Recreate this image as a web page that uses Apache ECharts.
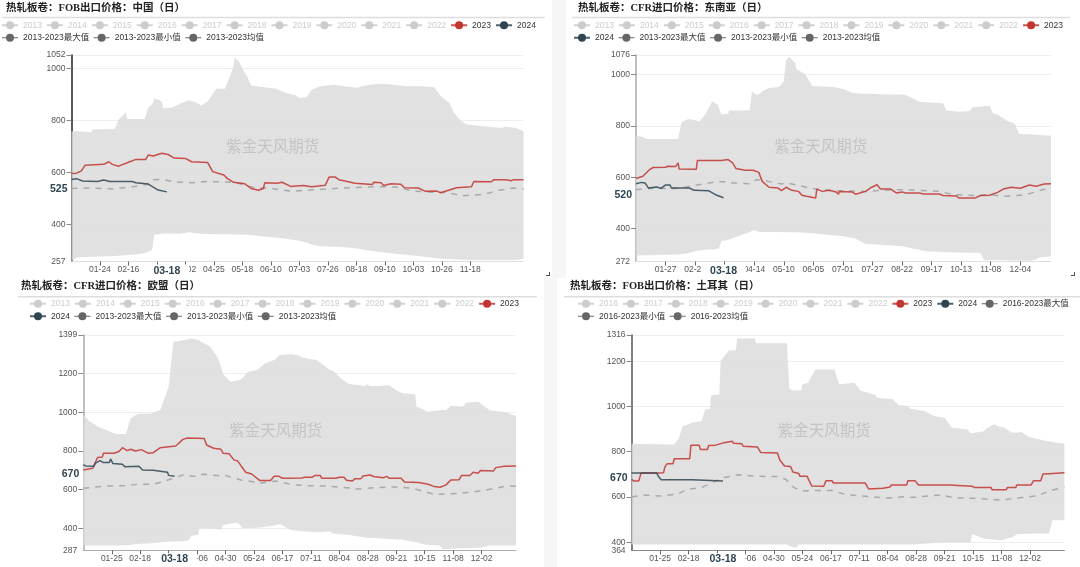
<!DOCTYPE html>
<html>
<head>
<meta charset="utf-8">
<title>热轧板卷</title>
<script src="https://cdn.jsdelivr.net/npm/echarts@6/dist/echarts.min.js"></script>
<style>
  html, body { margin: 0; padding: 0; background: #fff; }
  .gutter { position: absolute; background: #f6f6f6; }
  .corner { position: absolute; width: 3px; height: 3px; border-right: 1px solid #555; border-bottom: 1px solid #555; }
  .chart { position: absolute; }
</style>
</head>
<body>
<div class="gutter" style="left:552px;top:0;width:14px;height:278px"></div>
<div class="gutter" style="left:544px;top:278px;width:13px;height:289px"></div>
<div class="corner" style="left:546px;top:272px"></div>
<div class="corner" style="left:1071px;top:272px"></div>
<div class="chart" id="c1" style="left:0;top:0;width:545px;height:278px"></div>
<div class="chart" id="c2" style="left:565px;top:0;width:515px;height:278px"></div>
<div class="chart" id="c3" style="left:0;top:278px;width:544px;height:289px"></div>
<div class="chart" id="c4" style="left:560px;top:278px;width:520px;height:289px"></div>
<script>
// day list of the seasonal axis, taken from a leap year so it runs 01-01 .. 12-31
const DAYS = []
for (let d = new Date(Date.UTC(2024, 0, 1)); d.getUTCFullYear() === 2024; d.setUTCDate(d.getUTCDate() + 1)) {
  DAYS.push(d.toISOString().slice(5, 10))
}

const RED = '#c23531'
const NAVY = '#2f4554'
const FONT = '"Liberation Sans", "Noto Sans CJK SC", sans-serif'

// band rows are [day, min, max]; the lines are [day, price]
const CHARTS = [
  {
    id: 'c1', title: '热轧板卷：FOB出口价格：中国（日）', range: '2013-2023',
    years: ['2013', '2014', '2015', '2016', '2017', '2018', '2019', '2020', '2021', '2022'],
    titleX: 6, titleY: 3, rule: [2, 17.5, 545], legend: [1, 21, 540],
    grid: { left: 71.5, top: 55, width: 452, height: 206.5 },
    yMin: 257, yMax: 1052, step: 23, axisColor: '#222', xLineColor: '#ddd',
    pointer: 535, pointerLabel: '525',
    band: [[0,259,758],[4,272,758],[16,275,755],[17,275,765],[35,278,768],[38,279,804],[44,281,832],[45,282,806],[53,285,806],[59,290,806],[62,295,849],[65,301,862],[66,360,870],[67,360,885],[73,365,874],[74,365,847],[81,365,849],[87,363,863],[95,370,878],[101,366,868],[105,364,858],[110,363,874],[117,362,922],[124,362,922],[130,362,996],[132,361,1041],[135,361,1028],[140,360,983],[142,360,968],[145,358,935],[159,351,926],[165,349,922],[173,345,906],[181,339,897],[184,337,886],[190,330,890],[194,322,919],[201,316,932],[212,314,937],[220,312,932],[231,307,926],[237,301,935],[248,295,941],[259,288,938],[270,283,932],[283,276,932],[293,270,928],[298,268,894],[305,267,868],[309,266,829],[315,264,797],[319,264,785],[332,263,778],[348,263,771],[350,263,777],[359,263,771],[365,268,758]],
    y2023: [[0,596],[4,597],[8,606],[11,628],[26,631],[30,641],[33,631],[38,624],[45,637],[52,650],[60,650],[62,667],[66,663],[73,674],[78,669],[83,655],[92,654],[97,641],[110,638],[114,603],[123,590],[126,576],[131,562],[140,556],[145,538],[151,531],[155,538],[156,560],[166,558],[170,562],[177,546],[187,550],[194,545],[205,551],[208,582],[213,582],[216,572],[229,558],[243,553],[244,562],[250,560],[252,550],[258,556],[266,554],[269,541],[280,540],[286,527],[295,528],[298,522],[311,541],[323,545],[325,565],[339,564],[341,572],[351,572],[355,568],[357,572],[365,572]],
    y2024: [[0,573],[4,576],[9,567],[21,565],[26,571],[31,565],[49,565],[52,560],[62,555],[70,532],[77,525]],
    avg: [[0,538],[17,540],[34,536],[51,546],[62,554],[66,572],[73,573],[84,563],[98,560],[109,565],[131,562],[148,541],[162,538],[178,527],[192,532],[220,540],[248,545],[262,544],[276,528],[290,524],[304,522],[315,510],[332,515],[346,532],[357,540],[365,537]]
  },
  {
    id: 'c2', title: '热轧板卷：CFR进口价格：东南亚（日）', range: '2013-2023',
    years: ['2013', '2014', '2015', '2016', '2017', '2018', '2019', '2020', '2021', '2022'],
    titleX: 13, titleY: 3, rule: [7, 17.5, 505], legend: [8, 21, 500],
    grid: { left: 71, top: 55, width: 415, height: 206.5 },
    yMin: 272, yMax: 1076, step: 26, axisColor: '#aaa', xLineColor: '#ddd',
    pointer: 531, pointerLabel: '520',
    band: [[0,275,762],[2,295,760],[6,296,757],[9,296,749],[37,299,749],[40,301,814],[46,304,827],[52,312,822],[56,315,818],[61,318,845],[62,318,851],[67,319,896],[72,321,881],[73,323,879],[75,351,844],[81,357,847],[82,358,860],[94,377,860],[100,386,861],[102,393,935],[106,392,920],[109,387,925],[111,387,935],[117,387,948],[126,387,951],[130,386,974],[132,386,1058],[135,386,1068],[140,386,1045],[141,386,1022],[149,384,1000],[155,382,955],[173,374,951],[182,370,944],[190,364,929],[194,360,927],[197,352,925],[202,340,925],[209,339,925],[218,336,922],[234,331,922],[237,328,920],[241,325,912],[249,318,894],[255,312,892],[270,309,888],[273,308,860],[284,307,855],[293,306,857],[296,306,873],[303,305,875],[306,278,876],[311,278,878],[314,278,848],[318,278,844],[327,277,818],[333,276,809],[337,276,768],[346,275,767],[352,280,765],[355,288,765],[365,292,762]],
    y2023: [[0,595],[6,604],[12,630],[15,638],[26,639],[28,643],[35,642],[37,656],[38,632],[53,631],[54,665],[75,665],[81,669],[85,656],[88,634],[96,627],[103,627],[108,619],[111,584],[117,561],[125,558],[128,548],[132,561],[137,549],[143,545],[146,530],[150,526],[151,519],[158,519],[159,554],[164,545],[170,549],[176,543],[178,534],[179,545],[190,543],[193,534],[202,545],[206,558],[212,571],[215,554],[224,554],[229,539],[234,543],[237,539],[249,539],[253,535],[267,535],[270,529],[282,527],[284,519],[290,519],[291,523],[298,519],[303,529],[311,530],[318,541],[323,554],[330,561],[338,557],[346,570],[352,565],[359,574],[365,575]],
    y2024: [[0,575],[5,580],[8,578],[11,558],[18,562],[22,557],[26,570],[30,570],[31,558],[47,558],[51,549],[64,547],[70,532],[77,520]],
    avg: [[0,552],[15,557],[37,556],[49,567],[61,575],[73,584],[85,578],[100,575],[106,591],[116,584],[128,574],[133,578],[155,556],[173,548],[203,545],[227,552],[249,549],[267,545],[279,532],[298,529],[310,532],[325,526],[343,532],[358,552],[365,555]]
  },
  {
    id: 'c3', title: '热轧板卷：CFR进口价格：欧盟（日）', range: '2013-2023',
    years: ['2013', '2014', '2015', '2016', '2017', '2018', '2019', '2020', '2021', '2022'],
    titleX: 21, titleY: 3, rule: [18, 18.7, 537], legend: [29, 21.5, 500],
    grid: { left: 83.3, top: 57, width: 432.7, height: 215.3 },
    yMin: 287, yMax: 1399, step: 24, axisColor: '#aaa', xLineColor: '#aaa',
    pointer: 682, pointerLabel: '670',
    band: [[0,312,986],[5,312,955],[12,312,926],[20,312,907],[27,312,888],[36,313,888],[40,315,969],[43,318,980],[46,319,991],[57,324,994],[65,329,1012],[72,331,1132],[76,332,1364],[82,334,1369],[89,336,1378],[91,361,1381],[97,367,1373],[98,401,1370],[107,398,1338],[113,396,1287],[116,394,1240],[118,418,1197],[124,424,1158],[129,430,1163],[132,420,1166],[134,401,1175],[139,402,1209],[146,404,1218],[148,404,1225],[153,408,1252],[162,415,1273],[165,423,1295],[166,423,1301],[175,392,1299],[181,388,1295],[185,386,1282],[197,380,1270],[208,384,1218],[211,372,1213],[217,370,1175],[224,366,1146],[238,352,1135],[239,352,1146],[242,350,1135],[249,349,1136],[258,345,1139],[265,343,1110],[269,341,1100],[280,330,1092],[281,329,1029],[287,318,1015],[290,316,1003],[301,312,1010],[303,294,1012],[306,294,1012],[310,295,1034],[320,297,1030],[323,298,1049],[333,300,1055],[336,301,1040],[343,312,1010],[357,312,999],[365,312,981]],
    y2023: [[0,702],[8,711],[12,766],[16,769],[17,788],[26,788],[30,797],[33,817],[37,802],[40,809],[44,800],[49,807],[55,788],[59,791],[65,817],[72,822],[78,826],[84,860],[88,867],[102,865],[104,831],[110,814],[116,809],[118,788],[123,786],[127,754],[130,750],[133,724],[137,690],[142,681],[149,647],[158,647],[161,669],[165,669],[168,659],[184,661],[187,664],[193,664],[195,673],[200,673],[201,659],[213,659],[216,664],[220,664],[222,649],[227,645],[229,656],[234,656],[236,671],[242,676],[245,668],[253,662],[256,669],[258,659],[268,659],[271,640],[283,637],[291,628],[296,616],[301,613],[306,625],[310,650],[317,652],[319,673],[326,673],[329,690],[333,685],[335,699],[346,697],[348,714],[355,721],[365,723]],
    y2024: [[0,729],[2,723],[9,721],[10,736],[14,750],[17,740],[22,740],[23,759],[25,735],[33,731],[35,719],[47,721],[50,702],[59,700],[60,692],[71,690],[72,674],[77,670]],
    avg: [[0,607],[17,618],[37,621],[46,628],[59,628],[69,645],[84,676],[95,668],[101,680],[116,671],[120,673],[133,650],[150,635],[162,645],[177,625],[191,621],[208,618],[232,604],[246,611],[264,614],[278,607],[296,576],[316,580],[336,594],[357,619],[365,618]]
  },
  {
    id: 'c4', title: '热轧板卷：FOB出口价格：土耳其（日）', range: '2016-2023',
    years: ['2016', '2017', '2018', '2019', '2020', '2021', '2022'],
    titleX: 10, titleY: 3, rule: [4, 18.7, 520], legend: [17, 21.5, 505],
    grid: { left: 71.6, top: 57, width: 432.8, height: 215.3 },
    yMin: 364, yMax: 1316, step: 24, axisColor: '#555', xLineColor: '#888',
    pointer: 682, pointerLabel: '670',
    band: [[0,390,835],[36,390,832],[40,390,862],[43,390,913],[51,390,928],[59,390,936],[62,390,987],[66,390,990],[67,390,1050],[74,390,1053],[75,390,1201],[82,390,1248],[88,390,1249],[89,390,1301],[104,390,1301],[105,390,1280],[131,390,1280],[133,383,1078],[136,378,1071],[139,376,1071],[141,390,1071],[143,390,1071],[144,390,1098],[149,390,1105],[151,390,1127],[155,390,1164],[171,390,1164],[175,390,1098],[188,390,1105],[193,390,1071],[206,390,1050],[207,390,1039],[220,390,1033],[225,390,1006],[233,390,1002],[235,390,990],[247,393,980],[255,396,958],[264,398,950],[270,398,906],[283,398,899],[286,398,881],[287,435,881],[297,416,890],[299,415,903],[306,412,921],[310,408,910],[313,409,909],[319,420,890],[321,422,884],[325,435,885],[329,436,887],[335,437,865],[350,438,847],[352,438,846],[355,497,843],[365,497,835]],
    y2023: [[0,678],[2,670],[6,670],[8,706],[23,706],[27,707],[28,732],[30,747],[35,747],[36,769],[49,769],[50,828],[57,829],[58,810],[64,810],[65,827],[71,829],[78,840],[85,846],[86,837],[93,835],[94,824],[106,821],[109,796],[123,794],[125,763],[129,737],[134,735],[136,710],[141,704],[142,691],[148,691],[152,648],[162,647],[164,672],[169,672],[170,662],[197,662],[200,635],[212,638],[213,644],[218,644],[219,653],[232,653],[233,672],[239,672],[242,653],[268,653],[269,648],[287,647],[289,642],[303,642],[304,632],[316,632],[317,642],[324,642],[325,653],[337,653],[339,672],[345,672],[347,701],[352,703],[353,707],[365,707]],
    y2024: [[0,706],[21,706],[23,688],[25,676],[51,676],[52,670],[77,670]],
    avg: [[0,600],[10,609],[24,604],[39,613],[47,634],[59,641],[68,663],[77,685],[90,698],[106,691],[123,690],[130,678],[137,641],[143,626],[152,628],[170,628],[178,614],[185,609],[201,601],[216,595],[231,601],[236,598],[261,609],[271,597],[288,594],[312,586],[329,597],[343,606],[352,626],[365,644]]
  }
]

function legendItems (cfg) {
  const fixed = [`${cfg.range}最大值`, `${cfg.range}最小值`, `${cfg.range}均值`]
  return cfg.years.concat(['2023', '2024']).map((name) => ({ name })).concat(fixed.map((name) => ({
    name,
    itemStyle: { color: '#666' },
    lineStyle: { color: '#666', opacity: 1, width: 1 }
  })))
}

function lineSeries (name, data, color, extra) {
  return Object.assign({
    name,
    type: 'line',
    data,
    showSymbol: false,
    symbol: 'circle',
    symbolSize: 8,
    itemStyle: { color },
    lineStyle: { color, width: 1.5, opacity: 0.85 },
    silent: true,
    z: 5
  }, extra)
}

function buildOption (cfg) {
  const maxName = `${cfg.range}最大值`
  const minName = `${cfg.range}最小值`
  const avgName = `${cfg.range}均值`
  const selected = {}
  cfg.years.forEach((y) => { selected[y] = false })
  // the last step before year end has no label or tick in the reference
  const showDay = (index) => index > 0 && index % cfg.step === 0 && index < 366 - cfg.step
  const yLabel = { color: '#555', fontSize: 8.5, fontFamily: FONT, margin: 6, formatter: (v) => String(v) }

  return {
    animation: false,
    title: {
      text: cfg.title,
      left: cfg.titleX,
      top: cfg.titleY,
      padding: 0,
      textStyle: { fontFamily: '"Liberation Serif", "Noto Sans CJK SC", serif', fontSize: 10.5, fontWeight: 'bold', color: '#222' }
    },
    graphic: [
      { type: 'line', silent: true, shape: { x1: cfg.rule[0], y1: cfg.rule[1], x2: cfg.rule[2], y2: cfg.rule[1] }, style: { stroke: '#ddd', lineWidth: 1.5 } },
      {
        type: 'text', silent: true, z: 20,
        x: cfg.grid.left + cfg.grid.width * 0.445,
        y: cfg.grid.top + cfg.grid.height * 0.44,
        style: { text: '紫金天风期货', font: '15.5px "Noto Sans CJK SC"', fill: '#c4c4c4', textAlign: 'center', textVerticalAlign: 'middle' }
      }
    ],
    legend: {
      left: cfg.legend[0],
      top: cfg.legend[1],
      width: cfg.legend[2],
      padding: 0,
      itemWidth: 16,
      itemHeight: 10,
      itemGap: 4,
      inactiveColor: '#ccc',
      textStyle: { fontFamily: FONT, fontSize: 8.5, color: '#333' },
      data: legendItems(cfg),
      selected
    },
    tooltip: { trigger: 'axis', showContent: false },
    grid: cfg.grid,
    xAxis: {
      type: 'category',
      boundaryGap: false,
      data: DAYS,
      axisLine: { lineStyle: { color: cfg.xLineColor } },
      axisTick: { interval: showDay, length: 4, lineStyle: { color: '#666' } },
      axisLabel: { interval: showDay, color: '#555', fontSize: 8.5, fontFamily: FONT, margin: 4, hideOverlap: false },
      axisPointer: {
        show: true,
        status: 'show',
        value: 77,
        lineStyle: { opacity: 0 },
        label: {
          show: true, color: NAVY, fontWeight: 'bold', fontSize: 10.5, fontFamily: FONT,
          backgroundColor: '#fff', padding: [1, 9], margin: 3, shadowBlur: 0
        }
      }
    },
    yAxis: [
      {
        type: 'value',
        position: 'left',
        min: cfg.yMin,
        max: cfg.yMax,
        axisLine: { show: true, lineStyle: { color: cfg.axisColor, width: 1.5 } },
        axisTick: { show: true, length: 5, lineStyle: { color: '#888' } },
        axisLabel: Object.assign({ showMinLabel: false }, yLabel),
        splitLine: { lineStyle: { color: '#eee' } },
        axisPointer: {
          show: true,
          status: 'show',
          value: cfg.pointer,
          lineStyle: { opacity: 0 },
          label: {
            show: true, color: NAVY, fontWeight: 'bold', fontSize: 10.5, fontFamily: FONT,
            backgroundColor: '#fff', padding: [1, 2], margin: 2,
            formatter: () => cfg.pointerLabel
          }
        }
      },
      {
        // the min label sits too near the 400 tick for the main axis to keep both
        type: 'value',
        position: 'left',
        min: cfg.yMin,
        max: cfg.yMax,
        axisLine: { show: false },
        axisTick: { show: false },
        splitLine: { show: false },
        axisLabel: Object.assign({ customValues: [cfg.yMin] }, yLabel)
      }
    ],
    series: [
      ...cfg.years.map((y) => lineSeries(y, [], '#ccc')),
      lineSeries(minName, cfg.band.map((r) => [r[0], r[1]]), '#666', {
        stack: 'band', lineStyle: { opacity: 0 }, areaStyle: { opacity: 0 }, z: 2
      }),
      lineSeries(maxName, cfg.band.map((r) => [r[0], r[2] - r[1]]), '#666', {
        stack: 'band', lineStyle: { opacity: 0 }, areaStyle: { color: '#dcdcdc', opacity: 0.85 }, z: 2
      }),
      lineSeries(avgName, cfg.avg, '#aaa', { lineStyle: { color: '#aaa', width: 1.5, type: [6, 6] }, z: 3 }),
      lineSeries('2023', cfg.y2023, RED),
      lineSeries('2024', cfg.y2024, NAVY, { z: 6 })
    ]
  }
}

CHARTS.forEach((cfg) => {
  const chart = echarts.init(document.getElementById(cfg.id))
  chart.setOption(buildOption(cfg))
})
</script>
</body>
</html>
